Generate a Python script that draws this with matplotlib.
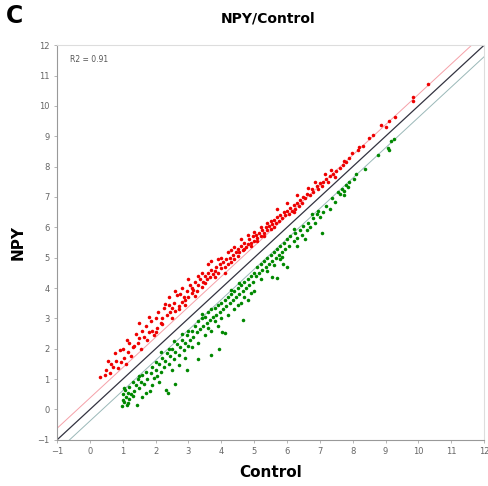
import matplotlib.pyplot as plt

# up-regulated genes (Control, NPY) log2 expression
up_x = [0.31, 0.45, 0.5, 0.6, 0.65, 0.7, 0.8, 0.85, 0.92, 0.95, 1.0, 1.05, 1.12, 1.16, 1.2, 1.25, 1.3, 0.75, 1.1, 0.55,
        1.35, 1.4, 1.45, 1.5, 1.55, 1.6, 1.65, 1.7, 1.75, 1.8, 1.85, 1.9, 1.95, 2.0, 2.05, 2.08, 2.15, 2.2, 2.25, 2.29,
        2.35, 2.4, 2.45, 2.5, 1.5, 1.8, 2.0, 2.2, 2.4, 2.5,
        2.55, 2.6, 2.64, 2.7, 2.75, 2.8, 2.85, 2.9, 2.95, 3.0, 3.05, 3.1, 3.15, 3.2, 3.25, 3.3, 3.35, 3.4, 3.45, 3.5,
        2.6, 2.8, 3.0, 3.2, 3.4, 2.7, 2.9, 3.1, 3.3, 3.5,
        3.55, 3.6, 3.65, 3.7, 3.75, 3.8, 3.85, 3.9, 3.95, 4.0, 4.05, 4.1, 4.15, 4.2, 4.25, 4.3, 4.35, 4.4, 4.45, 4.5,
        3.6, 3.8, 4.0, 4.2, 4.4, 3.7, 4.1, 4.3, 3.9, 4.5,
        4.55, 4.6, 4.65, 4.7, 4.75, 4.8, 4.85, 4.9, 4.95, 5.0, 5.05, 5.1, 5.15, 5.2, 5.25, 5.3, 5.35, 5.4, 5.45, 5.5,
        4.6, 4.8, 5.0, 5.2, 5.4, 4.7, 4.9, 5.1, 5.3, 5.5,
        5.55, 5.6, 5.65, 5.7, 5.75, 5.8, 5.85, 5.9, 5.95, 6.0, 6.05, 6.1, 6.15, 6.2, 6.25, 6.3, 6.35, 6.4, 6.45, 6.5,
        5.7, 6.0, 6.3, 5.6, 6.2,
        6.55, 6.6, 6.7, 6.75, 6.8, 6.9, 6.95, 7.0, 7.05, 7.1, 7.2, 7.25, 7.3, 7.4, 7.45, 7.5, 6.65, 6.85, 7.15, 7.35,
        7.6, 7.7, 7.75, 7.8, 7.9, 7.97, 8.15, 8.2, 8.3, 8.5, 8.62, 8.86, 9.0, 9.12, 9.29, 9.83, 9.85, 10.28]
up_y = [1.07, 1.15, 1.3, 1.2, 1.5, 1.4, 1.6, 1.35, 1.96, 1.55, 2.0, 1.7, 2.29, 1.9, 2.2, 1.75, 2.05, 1.85, 1.5, 1.6,
        2.1, 2.5, 2.2, 2.35, 2.0, 2.6, 2.4, 2.75, 2.3, 2.55, 2.9, 2.6, 2.45, 3.0, 2.7, 3.22, 2.85, 3.0, 3.35, 3.47,
        3.1, 3.45, 3.2, 3.0, 2.85, 3.05, 2.55, 2.8, 3.7, 3.35,
        3.5, 3.25, 3.77, 3.4, 3.8, 3.55, 3.7, 3.45, 3.9, 3.7, 4.1, 3.85, 3.95, 4.2, 3.9, 4.1, 4.3, 4.05, 4.2, 4.4,
        3.9, 4.0, 4.3, 3.75, 4.5, 3.3, 3.6, 4.0, 4.4, 4.15,
        4.3, 4.5, 4.35, 4.6, 4.45, 4.55, 4.7, 4.5, 4.8, 4.65, 4.85, 4.7, 4.95, 4.8, 5.0, 4.85, 5.1, 4.95, 5.2, 5.05,
        4.8, 4.35, 5.0, 5.2, 5.35, 4.9, 4.5, 5.25, 4.95, 5.3,
        5.2, 5.4, 5.25, 5.5, 5.35, 5.45, 5.6, 5.5, 5.7, 5.55, 5.75, 5.65, 5.8, 5.7, 5.9, 5.8, 6.0, 5.9, 6.05, 5.95,
        5.6, 5.75, 5.85, 6.0, 6.15, 5.3, 5.4, 5.55, 5.7, 6.2,
        6.1, 6.25, 6.15, 6.35, 6.2, 6.4, 6.3, 6.5, 6.4, 6.55, 6.45, 6.65, 6.55, 6.75, 6.6, 6.8, 6.7, 6.9, 6.8, 7.0,
        6.6, 6.8, 7.05, 6.0, 6.5,
        6.95, 7.1, 7.05, 7.25, 7.15, 7.35, 7.25, 7.45, 7.35, 7.5, 7.6, 7.5, 7.7, 7.75, 7.65, 7.85, 7.3, 7.5, 7.75, 7.9,
        7.95, 8.05, 8.2, 8.15, 8.3, 8.44, 8.54, 8.65, 8.67, 8.93, 9.03, 9.36, 9.3, 9.5, 9.63, 10.15, 10.29, 10.71]

# down-regulated genes
down_x = [0.97, 1.0, 1.02, 1.05, 1.08, 1.1, 1.12, 1.15, 1.18, 1.2, 1.25, 1.3, 1.35, 1.4, 1.43, 1.45, 1.5, 1.55,
          1.6, 1.65, 1.7, 1.75, 1.83, 1.85, 1.9, 1.95, 2.0, 1.05, 1.15, 1.3, 1.5, 1.7, 1.9, 2.0, 1.6,
          2.05, 2.1, 2.15, 2.2, 2.25, 2.3, 2.35, 2.4, 2.45, 2.5, 2.55, 2.6, 2.65, 2.7, 2.75, 2.8, 2.85, 2.9, 2.95,
          3.0, 2.1, 2.32, 2.5, 2.7, 2.9, 2.38, 2.6, 2.4, 2.8, 3.0, 2.15, 2.55,
          3.05, 3.1, 3.15, 3.2, 3.25, 3.3, 3.35, 3.4, 3.45, 3.5, 3.55, 3.6, 3.65, 3.7, 3.75, 3.8, 3.85, 3.9, 3.95,
          4.0, 3.1, 3.3, 3.5, 3.7, 3.9, 3.3, 3.7, 3.93, 2.95, 3.4, 3.6, 3.8, 4.0,
          4.05, 4.1, 4.15, 4.2, 4.25, 4.3, 4.35, 4.4, 4.45, 4.5, 4.55, 4.6, 4.65, 4.7, 4.75, 4.8, 4.85, 4.9, 4.95,
          5.0, 4.11, 4.03, 4.2, 4.4, 4.6, 4.8, 5.0, 4.3, 4.5, 4.7, 4.9, 4.55,
          5.05, 5.1, 5.15, 5.2, 5.25, 5.3, 5.35, 5.4, 5.45, 5.5, 5.55, 5.6, 5.65, 5.7, 5.75, 5.8, 5.85, 5.9, 5.95,
          6.0, 5.53, 5.69, 5.84, 6.01, 5.87, 4.67, 5.2, 5.4, 5.6, 5.8,
          6.05, 6.1, 6.2, 6.25, 6.3, 6.4, 6.45, 6.5, 6.6, 6.65, 6.7, 6.8, 6.85, 6.9, 7.0, 7.06, 6.3, 6.55, 6.75,
          6.95, 6.2,
          7.1, 7.2, 7.3, 7.36, 7.45, 7.55, 7.68, 7.72, 7.8, 7.85, 7.9, 8.05, 8.09, 8.38, 8.76, 9.07, 9.09, 9.17,
          9.27, 7.6, 7.75]
down_y = [0.1, 0.3, 0.5, 0.25, 0.65, 0.4, 0.15, 0.55, 0.35, 0.75, 0.5, 0.9, 0.6, 0.8, 0.15, 1.0, 0.7, 0.9,
          1.15, 0.85, 1.25, 1.0, 0.62, 1.2, 1.4, 1.05, 1.3, 0.7, 0.2, 0.45, 1.1, 0.55, 0.8, 1.55, 0.4,
          1.1, 1.5, 1.25, 1.7, 1.4, 1.6, 1.85, 1.5, 1.75, 2.0, 1.65, 1.9, 2.15, 1.8, 2.05, 2.3, 1.95, 2.2, 2.45,
          2.1, 0.9, 0.64, 1.3, 1.45, 1.7, 0.54, 0.85, 2.0, 2.5, 2.6, 1.9, 2.25,
          2.3, 2.6, 2.4, 2.75, 2.55, 2.9, 2.65, 3.0, 2.75, 3.05, 2.85, 3.2, 2.95, 3.3, 3.05, 3.35, 3.1, 3.45, 3.2,
          3.5, 2.05, 2.2, 2.45, 2.6, 2.75, 1.66, 1.8, 1.99, 1.3, 3.15, 2.7, 2.9, 3.0,
          3.3, 3.6, 3.4, 3.7, 3.5, 3.8, 3.6, 3.9, 3.7, 4.0, 3.8, 4.1, 3.9, 4.2, 4.0, 4.3, 4.1, 4.4, 4.2,
          4.5, 2.52, 2.55, 3.1, 3.3, 3.5, 3.6, 3.9, 3.95, 3.45, 3.7, 3.85, 4.15,
          4.4, 4.7, 4.5, 4.8, 4.6, 4.9, 4.7, 5.0, 4.8, 5.1, 4.9, 5.2, 5.0, 5.3, 5.1, 5.4, 5.2, 5.5, 5.3,
          5.6, 4.37, 4.32, 5.01, 4.7, 4.8, 2.95, 4.3, 4.55, 4.75, 4.95,
          5.4, 5.7, 5.55, 5.8, 5.65, 5.9, 5.75, 6.05, 5.9, 6.15, 6.0, 6.3, 6.15, 6.45, 6.35, 5.8, 5.4, 5.6, 6.45,
          6.55, 5.95,
          6.5, 6.7, 6.6, 6.96, 6.85, 7.17, 7.27, 7.05, 7.4, 7.33, 7.5, 7.6, 7.75, 7.92, 8.38, 8.6, 8.56, 8.84,
          8.9, 7.1, 7.2]

r2_text = "R2 = 0.91"
fold_offset = 0.38  # log2(1.3) cut-off lines
ticks = list(range(-1, 13))

fig = plt.figure(figsize=(4.88, 4.86), dpi=100)
ax = fig.add_axes([0.117, 0.095, 0.875, 0.812])

ax.scatter(up_x, up_y, s=6.5, color="#ee0000", linewidths=0, zorder=3)
ax.scatter(down_x, down_y, s=6.5, color="#008800", linewidths=0, zorder=3)

line_x = [-1, 12]
ax.plot(line_x, [v + fold_offset for v in line_x], color="#f5a0a8", lw=0.7, zorder=2)
ax.plot(line_x, line_x, color="#333340", lw=0.9, zorder=2)
ax.plot(line_x, [v - fold_offset for v in line_x], color="#9ab8b8", lw=0.7, zorder=2)

ax.set_xlim(-1, 12)
ax.set_ylim(-1, 12)
ax.set_xticks(ticks)
ax.set_yticks(ticks)
ax.tick_params(labelsize=6, labelcolor="#666666", color="#aaaaaa", length=2, width=0.6)
for side in ["left", "bottom"]:
    ax.spines[side].set_color("#999999")
    ax.spines[side].set_linewidth(0.8)
for side in ["top", "right"]:
    ax.spines[side].set_color("#dddddd")
    ax.spines[side].set_linewidth(0.8)

ax.text(0.03, 0.975, r2_text, transform=ax.transAxes, fontsize=5.5, color="#555555", va="top")

ax.set_xlabel("Control", fontsize=11, fontweight="bold", labelpad=6)
ax.set_ylabel("NPY", fontsize=11, fontweight="bold", labelpad=8)
fig.text(0.55, 0.962, "NPY/Control", ha="center", va="center", fontsize=10, fontweight="bold")
fig.text(0.012, 0.968, "C", ha="left", va="center", fontsize=17, fontweight="bold")

plt.savefig("out.png", dpi=100)
plt.close()
